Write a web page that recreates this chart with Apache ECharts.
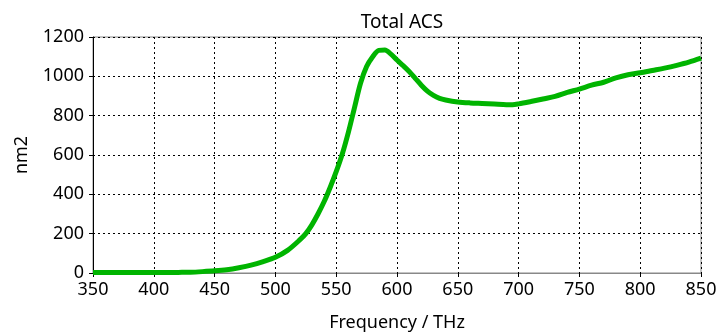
<!DOCTYPE html>
<html>
<head>
<meta charset="utf-8">
<script src="https://cdn.jsdelivr.net/npm/echarts@6/dist/echarts.min.js"></script>
<style>
html,body{margin:0;padding:0;background:#fff;}
#c{width:719px;height:333px;}
</style>
</head>
<body>
<div id="c"></div>
<script>
var titleText = "Total ACS";
var xName = "Frequency / THz";
var yName = "nm2";
var freq = [350,360,370,380,390,400,410,420,430,440,450,460,470,480,490,500,510,520,525,530,535,540,545,550,555,560,565,570,575,580,585,590,595,600,605,610,615,620,625,630,635,640,650,660,670,680,690,695,700,710,720,730,740,750,760,770,780,790,800,810,820,830,840,850];
var acs  = [3,3,3,2,2,2,2,3,4,7,11,17,27,40,58,80,115,168,200,245,300,362,435,515,605,715,840,965,1050,1100,1132,1134,1113,1083,1055,1025,990,955,925,903,888,880,870,865,862,859,856,856,860,872,885,898,918,935,955,970,992,1008,1018,1030,1042,1056,1072,1092];

var data = freq.map(function(f,i){return [f, acs[i]];});
var font = "Noto Sans";
var chart = echarts.init(document.getElementById('c'));
chart.setOption({
  animation:false,
  backgroundColor:'#fff',
  title:{text:titleText,left:397,textAlign:'center',top:8,textStyle:{fontFamily:font,fontSize:19,fontWeight:'normal',color:'#000'}},
  grid:{left:93,right:18,top:37,bottom:60,containLabel:false,outerBoundsMode:'none',show:true,borderColor:'#888',borderWidth:1,backgroundColor:'transparent'},
  xAxis:{type:'value',min:350,max:850,interval:50,name:xName,nameLocation:'middle',nameGap:41,
    nameTextStyle:{fontFamily:font,fontSize:18,color:'#000'},
    axisLine:{show:true,onZero:false,lineStyle:{color:'#888',width:1}},
    axisTick:{show:true,length:4,lineStyle:{color:'#000'}},
    axisLabel:{fontFamily:font,fontSize:18,color:'#000',margin:8,formatter:function(v){return String(v);}},
    splitLine:{show:true,lineStyle:{color:'#000',type:[2,3],width:1}}},
  yAxis:{type:'value',min:0,max:1200,interval:200,name:yName,nameLocation:'middle',nameGap:62,
    nameTextStyle:{fontFamily:font,fontSize:18,color:'#000'},
    axisLine:{show:true,lineStyle:{color:'#000',width:1}},
    axisTick:{show:true,length:4,lineStyle:{color:'#000'}},
    axisLabel:{fontFamily:font,fontSize:18,color:'#000',margin:9,formatter:function(v){return String(v);}},
    splitLine:{show:true,lineStyle:{color:'#000',type:[2,3],width:1}}},
  series:[{type:'line',data:data,smooth:0.3,showSymbol:false,
    lineStyle:{color:'#00b400',width:5},itemStyle:{color:'#00b400'}}]
});
</script>
</body>
</html>
